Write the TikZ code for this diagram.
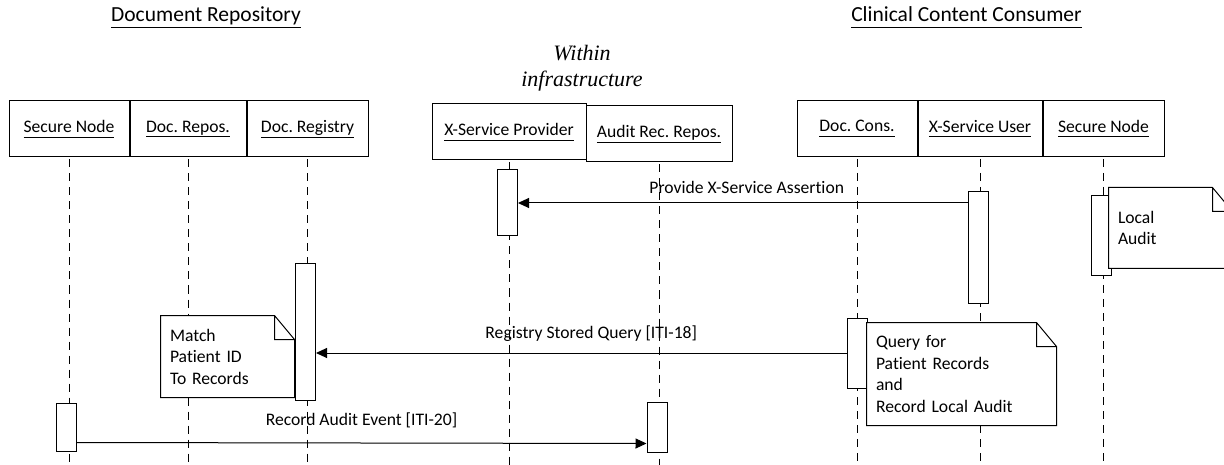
\documentclass[tikz,border=0pt]{standalone}
\usepackage{fontspec}
\setmainfont{Carlito}[Ligatures=NoCommon]
\newfontfamily\infrafont{Liberation Serif}
\usepackage{tikz}
\usetikzlibrary{
	positioning,
	arrows.meta
}
\frenchspacing

\newcommand{\ul}[1]{\underline{#1\vphantom{y}}}
% dog-eared outline round a note node
\newcommand{\dogear}[1]{%
	\draw (#1.north west) -- ([xshift=-20pt]#1.north east) -- ([yshift=-24pt]#1.north east)
		-- (#1.south east) -- (#1.south west) -- cycle
		([xshift=-20pt]#1.north east) |- ([yshift=-24pt]#1.north east);}

\begin{document}
\begin{tikzpicture}[
		x=1pt, y=-1pt,
		line width=1pt,
		font=\fontsize{17.6}{21.5}\selectfont,
		actor/.style={draw, minimum height=56pt, inner sep=0pt},
		bar/.style={draw, fill=white, minimum width=20pt, inner sep=0pt},
		life/.style={dash pattern=on 8pt off 6pt},
		msg/.style={-{Triangle[length=11pt,width=10pt]}},
		notebox/.style={fill=white, align=left, inner xsep=9pt, inner ysep=0pt},
		title/.style={font=\fontsize{21.5}{26}\selectfont, anchor=base}
	]
		\useasboundingbox (0,0) rectangle (1224,465);
		\clip (0,0) rectangle (1224,465);
		\coordinate (bot) at (0,465);

		\node[title] (drtitle) at (206,22)   {\ul{Document Repository}};
		\node[title] (cctitle) at (966.5,22) {\ul{Clinical Content Consumer}};
		\node[font=\infrafont\itshape\fontsize{22}{26}\selectfont, align=center] (infra) at (582,68) {Within\\infrastructure};

		\draw
			node[actor, minimum width=120pt] at (69,129)      (sn1)  {\ul{Secure Node}}
			node[actor, minimum width=116pt, right=0pt of sn1] (repo) {\ul{Doc. Repos.}}
			node[actor, minimum width=121pt, right=0pt of repo] (reg) {\ul{Doc. Registry}}

			node[actor, minimum width=154pt] at (509,132)     (prov) {\ul{X-Service Provider}}
			node[actor, minimum width=146pt] at (659,134)     (arr)  {\ul{Audit Rec. Repos.}}

			node[actor, minimum width=120pt] at (857,128.5)   (cons) {\ul{Doc. Cons.}}
			node[actor, minimum width=124pt, right=0pt of cons] (user) {\ul{X-Service User}}
			node[actor, minimum width=121pt, right=0pt of user] (sn2)  {\ul{Secure Node}}
		;

		\foreach \n in {sn1,repo,reg,prov,arr,cons,user,sn2}
			\draw[life] ([yshift=-2pt]\n.south) -- (\n.south |- bot);

		% activation bars
		\node[bar, minimum height=66pt]  (pbar) at (507.5,203) {};
		\node[bar, minimum height=111pt] (ubar) at (978,247.5) {};
		\node[bar, minimum height=80pt]  (lbar) at (1101,236)  {};
		\node[bar, minimum height=136pt] (rbar) at (305.5,332) {};
		\node[bar, minimum height=70pt]  (cbar) at (857,353)   {};
		\node[bar, minimum height=48pt]  (sbar) at (66,427)    {};
		\node[bar, minimum height=50pt]  (abar) at (657,427)   {};

		\draw[msg] (ubar.west |- pbar.east) -- node[anchor=base, xshift=4pt, yshift=9pt] {Provide X-Service Assertion} (pbar.east);
		\draw[msg] (cbar.west) -- node[anchor=base, xshift=10pt, yshift=15pt] {Registry Stored Query [ITI-18]} (rbar.east |- cbar.west);
		\draw[msg] ([yshift=9pt]sbar.south east) -- node[anchor=base, yshift=18pt] {Record Audit Event [ITI-20]} ([yshift=9pt]abar.south west);

		% notes
		\node[notebox, text width=105pt, minimum height=80pt]  (localnote) at (1170.5,228) {Local\\Audit};
		\dogear{localnote}
		\node[notebox, text width=115pt, minimum height=81pt]  (matchnote) at (227.5,356.5) {Match\\Patient ID\\To Records};
		\dogear{matchnote}
		\node[notebox, text width=171pt, minimum height=102pt] (querynote) at (961.5,374) {Query for\\Patient Records\\and\\Record Local Audit};
		\dogear{querynote}
	\end{tikzpicture}
\end{document}
